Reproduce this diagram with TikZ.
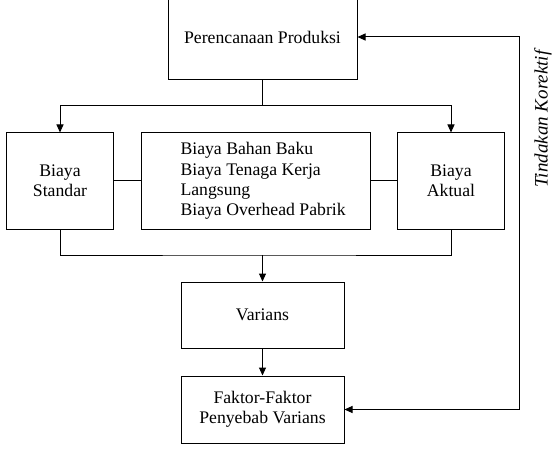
\documentclass[tikz,border=0pt]{standalone}
\usepackage{fontspec}
\setmainfont{Liberation Serif}
\usetikzlibrary{arrows.meta}
\begin{document}
\begin{tikzpicture}[x=1pt,y=-1pt,
  box/.style={draw,line width=1pt,rectangle,inner sep=0pt,font=\fontsize{17.7}{20.3}\selectfont,align=center},
  conn/.style={line width=1pt},
  arr/.style={conn,-{Triangle[length=8pt,width=7pt]}},
  darr/.style={conn,{Triangle[length=8pt,width=7pt]}-{Triangle[length=8pt,width=7pt]}}]
\useasboundingbox (0,0) rectangle (553,454);
\node[box,minimum width=189,minimum height=85] (plan) at (262.5,37) {Perencanaan Produksi};
\node[box,minimum width=107,minimum height=96] (std) at (60,181) {Biaya\\Standar};
\node[box,minimum width=229,minimum height=96] (mid) at (255.5,181) {};
\node[font=\fontsize{17.7}{20.3}\selectfont,align=left,anchor=west] (midtxt) at (177,181) {Biaya Bahan Baku\\Biaya Tenaga Kerja\\Langsung\\Biaya Overhead Pabrik};
\node[box,minimum width=107,minimum height=96] (akt) at (451,181) {Biaya\\Aktual};
\node[box,minimum width=163,minimum height=66] (var) at (262.5,315) {Varians};
\node[box,minimum width=163,minimum height=67] (fak) at (262.5,409.5) {Faktor-Faktor\\Penyebab Varians};
\coordinate (top) at (262.5,106);
\coordinate (bot) at (262.5,255);
\coordinate (rx) at (519,0);
\draw[conn] (plan.south) -- (top);
\draw[arr] (top) -| (std.north);
\draw[arr] (top) -| (akt.north);
\draw[conn] (std.east) -- (mid.west);
\draw[conn] (mid.east) -- (akt.west);
\draw[conn] (std.south) |- (bot) -| (akt.south);
\draw[arr] (bot) -- (var.north);
\draw[arr] (var.south) -- (fak.north);
\draw[darr] (fak.east) -- (fak.east -| rx) -- (plan.east -| rx) -- (plan.east);
\node[rotate=90,font=\fontsize{19}{22}\selectfont\itshape] (lbl) at (543,119) {Tindakan Korektif};
\end{tikzpicture}
\end{document}
